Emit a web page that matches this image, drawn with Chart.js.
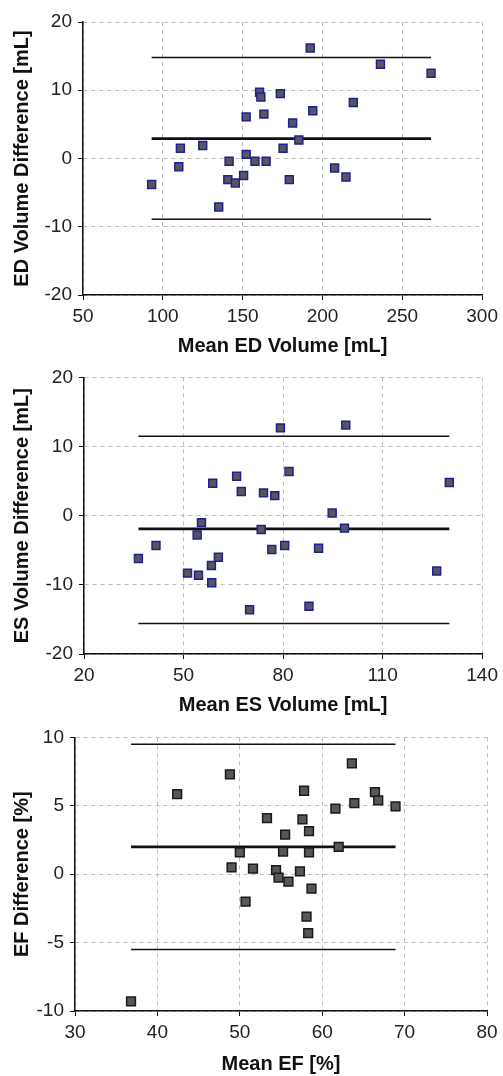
<!DOCTYPE html>
<html>
<head>
<meta charset="utf-8">
<script src="https://cdn.jsdelivr.net/npm/chart.js@4/dist/chart.umd.min.js"></script>
<style>
  html, body { margin: 0; padding: 0; background: #fff; }
  .panel { position: absolute; left: 0; width: 503px; }
</style>
</head>
<body>
<div class="panel" style="top:0px"><canvas id="edChart" width="503" height="360"></canvas></div>
<div class="panel" style="top:360px"><canvas id="esChart" width="503" height="360"></canvas></div>
<div class="panel" style="top:720px"><canvas id="efChart" width="503" height="356"></canvas></div>
<script>
// ED volume: mean vs difference
const edMean = [93, 110, 111, 125, 135, 141.5, 140.7, 145.4, 150.6, 152.2, 152.2, 157.7, 160.6, 161.4, 163.3, 164.7, 173.6, 175.3, 179.2, 181.3, 185.2, 192.3, 193.9, 207.6, 214.7, 219.3, 236.3, 268];
const edDiff = [-3.8, -1.2, 1.5, 1.9, -7.1, -0.4, -3.1, -3.6, -2.5, 0.6, 6.1, -0.4, 9.7, 9.0, 6.5, -0.4, 9.5, 1.5, -3.1, 5.2, 2.7, 16.2, 7.0, -1.4, -2.7, 8.2, 13.8, 12.5];
const edLimits = [14.8, 2.9, -8.9]; // upper, mean, lower
const edXTicks = [50, 100, 150, 200, 250, 300];
const edYTicks = [-20, -10, 0, 10, 20];

// ES volume
const esMean = [36.4, 41.7, 51.2, 54.1, 54.5, 55.4, 58.4, 58.5, 58.8, 60.5, 66.0, 67.4, 69.9, 73.4, 74.1, 76.6, 77.5, 79.2, 80.5, 81.8, 87.8, 90.7, 94.8, 98.5, 98.9, 126.3, 130.1];
const esDiff = [-6.2, -4.3, -8.3, -2.8, -8.6, -1.0, -7.2, -9.7, 4.7, -6.0, 5.7, 3.5, -13.6, -2.0, 3.3, -4.9, 2.9, 12.7, -4.3, 6.4, -13.1, -4.7, 0.4, -1.8, 13.1, -8.0, 4.8];
const esLimits = [11.5, -1.9, -15.6];
const esXTicks = [20, 50, 80, 110, 140];
const esYTicks = [-20, -10, 0, 10, 20];

// EF
const efMean = [36.8, 42.4, 48.8, 49.0, 50.0, 50.7, 51.6, 53.3, 54.4, 54.7, 55.25, 55.5, 55.9, 57.3, 57.6, 57.8, 58.1, 58.3, 58.4, 58.4, 58.7, 61.6, 62.0, 63.6, 63.9, 66.4, 66.8, 68.9];
const efDiff = [-9.3, 5.85, 7.3, 0.5, 1.6, -2.0, 0.4, 4.1, 0.3, -0.25, 1.65, 2.9, -0.55, 0.2, 4.0, 6.1, -3.1, -4.3, 3.15, 1.6, -1.05, 4.8, 2.0, 8.1, 5.2, 6.0, 5.4, 4.95];
const efLimits = [9.5, 2.0, -5.5];
const efXTicks = [30, 40, 50, 60, 70, 80];
const efYTicks = [-10, -5, 0, 5, 10];

const FONT = "Arial, 'Liberation Sans', sans-serif";
const W = 503;

function limitLine(xs, y, width) {
  const x0 = Math.min(...xs), x1 = Math.max(...xs);
  return {
    data: [{ x: x0, y }, { x: x1, y }],
    showLine: true,
    borderColor: "#111",
    borderWidth: width,
    pointRadius: 0,
    order: 2
  };
}

function makeChart(c) {
  const ctx = document.getElementById(c.id);
  const H = ctx.height;
  const points = c.xs.map((x, i) => ({ x, y: c.ys[i] }));

  const tickFont = { family: FONT, size: 19 };
  const titleFont = { family: FONT, size: 20, weight: "bold" };

  return new Chart(ctx, {
    type: "scatter",
    data: {
      datasets: [
        {
          data: points,
          pointStyle: "rect",
          pointRadius: c.radius,
          backgroundColor: "#575757",
          borderColor: c.edge,
          borderWidth: 1.5,
          order: 0
        },
        limitLine(c.xs, c.limits[0], 1.5),
        limitLine(c.xs, c.limits[1], 2.8),
        limitLine(c.xs, c.limits[2], 1.5)
      ]
    },
    options: {
      responsive: false,
      animation: false,
      devicePixelRatio: 1,
      layout: { padding: { top: c.area.top, right: W - c.area.right, left: 0, bottom: 0 } },
      plugins: { legend: { display: false }, tooltip: { enabled: false } },
      scales: {
        x: {
          type: "linear",
          min: c.xTicks[0],
          max: c.xTicks[c.xTicks.length - 1],
          afterBuildTicks: (s) => { s.ticks = c.xTicks.map(v => ({ value: v })); },
          afterFit: (s) => { s.height = H - c.area.bottom; },
          grid: { color: "#bdbdbd", lineWidth: 1, tickColor: "#111", tickLength: 5 },
          border: { color: "#111", width: 1.5, dash: [4, 4] },
          ticks: { font: tickFont, color: "#222", padding: 5, maxRotation: 0 },
          title: { display: true, text: c.xTitle, font: titleFont, color: "#111", padding: { top: 0, bottom: c.xTitlePad } }
        },
        y: {
          type: "linear",
          min: c.yTicks[0],
          max: c.yTicks[c.yTicks.length - 1],
          afterBuildTicks: (s) => { s.ticks = c.yTicks.map(v => ({ value: v })); },
          afterFit: (s) => { s.width = c.area.left; },
          grid: { color: "#bdbdbd", lineWidth: 1, tickColor: "#111", tickLength: 5 },
          border: { color: "#111", width: 1.5, dash: [4, 4] },
          ticks: { font: tickFont, color: "#222", padding: 6 },
          title: { display: true, text: c.yTitle, font: titleFont, color: "#111", padding: { top: 10, bottom: 0 } }
        }
      }
    }
  });
}

makeChart({
  id: "edChart", xs: edMean, ys: edDiff, limits: edLimits,
  xTicks: edXTicks, yTicks: edYTicks,
  xTitle: "Mean ED Volume [mL]", yTitle: "ED Volume Difference [mL]",
  area: { left: 83, right: 485, top: 22, bottom: 295 },
  xTitlePad: 2, radius: 5.6, edge: "#1f1f99"
});

makeChart({
  id: "esChart", xs: esMean, ys: esDiff, limits: esLimits,
  xTicks: esXTicks, yTicks: esYTicks,
  xTitle: "Mean ES Volume [mL]", yTitle: "ES Volume Difference [mL]",
  area: { left: 84, right: 487, top: 15, bottom: 294 },
  xTitlePad: 3, radius: 5.6, edge: "#1f1f99"
});

makeChart({
  id: "efChart", xs: efMean, ys: efDiff, limits: efLimits,
  xTicks: efXTicks, yTicks: efYTicks,
  xTitle: "Mean EF [%]", yTitle: "EF Difference [%]",
  area: { left: 75, right: 487, top: 17, bottom: 291 },
  xTitlePad: 0, radius: 6.2, edge: "#1a1a1a"
});
</script>
</body>
</html>
